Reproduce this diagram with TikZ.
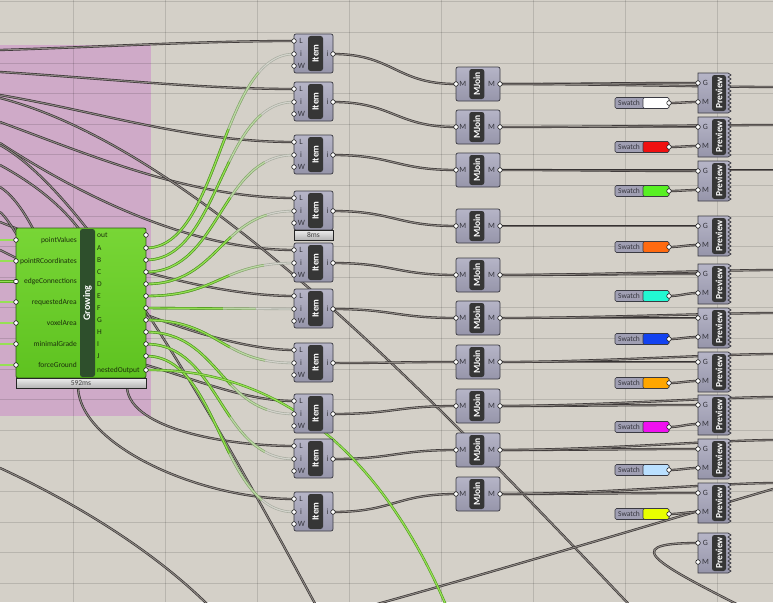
\documentclass[tikz,border=0pt]{standalone}
\usepackage{fontspec}
\setmainfont{Carlito}
\pgfdeclarelayer{back}
\pgfdeclarelayer{wires}
\pgfsetlayers{back,wires,main}
\definecolor{bgc}{HTML}{D4D0C8}
\definecolor{groupc}{HTML}{CFAAC8}
\definecolor{bodytop}{HTML}{B6B5C7}
\definecolor{bodybot}{HTML}{9695AA}
\definecolor{bodyedge}{HTML}{3A3A42}
\definecolor{bardark}{HTML}{363636}
\definecolor{labc}{HTML}{34343C}
\definecolor{wireedge}{HTML}{363232}
\definecolor{wirecore}{HTML}{8E8984}
\definecolor{greenedge}{HTML}{4E9A1C}
\definecolor{greencore}{HTML}{96E055}
\definecolor{midedge}{HTML}{86A86A}
\definecolor{midcore}{HTML}{BCD8A6}
\definecolor{paleedge}{HTML}{A6AA9E}
\definecolor{palecore}{HTML}{D2D3CB}
\definecolor{grtop}{HTML}{78D636}
\definecolor{grbot}{HTML}{5EC220}
\definecolor{gredge}{HTML}{2C5A12}
\definecolor{grbarc}{HTML}{2E4F2C}
\definecolor{grlab}{HTML}{1C300C}
\definecolor{timetop}{HTML}{EEEEEE}
\definecolor{timebot}{HTML}{B4B4B4}
\definecolor{swA}{HTML}{FFFFFF}
\definecolor{swB}{HTML}{F01010}
\definecolor{swC}{HTML}{58F024}
\definecolor{swD}{HTML}{FF6A10}
\definecolor{swE}{HTML}{22F8D2}
\definecolor{swF}{HTML}{1242F0}
\definecolor{swG}{HTML}{FFA600}
\definecolor{swH}{HTML}{F010F0}
\definecolor{swI}{HTML}{BAE0FF}
\definecolor{swJ}{HTML}{E8FF00}
\tikzset{
 ghbody/.style={draw=bodyedge, line width=0.7pt, rounded corners=2pt, top color=bodytop, bottom color=bodybot, inner sep=0pt},
 ghbodyp/.style={draw=bodyedge, line width=0.7pt, top color=bodytop, bottom color=bodybot},
 ghbar/.style={fill=bardark, rounded corners=2.5pt, inner sep=0pt},
 ghname/.style={rotate=90, text=white, font=\bfseries\fontsize{9.5}{9.5}\selectfont, inner sep=0pt},
 ghport/.style={circle, inner sep=0pt, minimum size=4.6pt, fill=white, draw=black, line width=0.5pt},
 plabel/.style={font=\fontsize{8}{8}\selectfont, text=labc, inner sep=0pt},
 ghwire/.style={draw=wireedge, line width=0.65pt, double=wirecore, double distance=1.0pt},
 greenwire/.style={draw=greenedge, line width=0.6pt, double=greencore, double distance=1.2pt},
 midwire/.style={draw=midedge, line width=0.6pt, double=midcore, double distance=1.2pt},
 palewire/.style={draw=paleedge, line width=0.6pt, double=palecore, double distance=1.2pt},
 timer/.style={draw=black!85, line width=0.6pt, top color=timetop, bottom color=timebot, inner sep=0pt, font=\fontsize{7.5}{7.5}\selectfont, text=black!75},
 grbody/.style={draw=gredge, line width=0.8pt, rounded corners=2pt, top color=grtop, bottom color=grbot, inner sep=0pt},
 grlabel/.style={font=\fontsize{7.5}{7.5}\selectfont, text=grlab, inner sep=0pt},
 swbody/.style={draw=bodyedge, line width=0.6pt, rounded corners=1.5pt, fill=bodybot!70!bodytop, inner sep=0pt},
 swlabel/.style={font=\fontsize{7.5}{7.5}\selectfont, text=labc, inner sep=0pt},
 gridline/.style={draw=black, opacity=0.13, line width=0.7pt},
}
\newcommand\GHitem[2]{%
 \node[ghbody, minimum width=39pt, minimum height=39pt] (item#1) at (313.5,#2+19.5) {};
 \node[ghbar, minimum width=15pt, minimum height=35pt] (itembar#1) at (315.5,#2+19.5) {};
 \node[ghname] (itemname#1) at (itembar#1.center) {Item};
 \coordinate (itemL#1) at (294,#2+7);
 \coordinate (itemI#1) at (294,#2+20);
 \coordinate (itemW#1) at (294,#2+32);
 \coordinate (itemO#1) at (333,#2+20);
 \node[ghport] (itemLp#1) at (itemL#1) {};
 \node[ghport] (itemIp#1) at (itemI#1) {};
 \node[ghport] (itemWp#1) at (itemW#1) {};
 \node[ghport] (itemOp#1) at (itemO#1) {};
 \node[plabel] (itemLl#1) at (301,#2+7) {L};
 \node[plabel] (itemIl#1) at (301,#2+20) {i};
 \node[plabel] (itemWl#1) at (301.5,#2+32) {W};
 \node[plabel] (itemOl#1) at (327.5,#2+20) {i};
}
\newcommand\GHmjoin[2]{%
 \node[ghbody, minimum width=44pt, minimum height=34pt] (mj#1) at (478,#2) {};
 \node[ghbar, minimum width=15pt, minimum height=30pt] (mjbar#1) at (476.8,#2) {};
 \node[ghname] (mjname#1) at (mjbar#1.center) {MJoin};
 \coordinate (mjI#1) at (456,#2);
 \coordinate (mjO#1) at (500,#2);
 \node[ghport] (mjIp#1) at (mjI#1) {};
 \node[ghport] (mjOp#1) at (mjO#1) {};
 \node[plabel] (mjIl#1) at (462.8,#2) {M};
 \node[plabel] (mjOl#1) at (491.5,#2) {M};
}
\newcommand\GHpreview[2]{%
 \draw[ghbodyp] (698,#2) -- (728,#2) \foreach \zz in {0,...,9}{ -- (731,#2+4*\zz+2) -- (728,#2+4*\zz+4)} -- (698,#2+40) -- cycle;
 \node[inner sep=0pt, minimum width=30pt, minimum height=40pt] (pv#1) at (713,#2+20) {};
 \node[ghbar, minimum width=14pt, minimum height=36pt] (pvbar#1) at (719,#2+20) {};
 \node[ghname] (pvname#1) at (pvbar#1.center) {Preview};
 \coordinate (pvG#1) at (698,#2+10);
 \coordinate (pvM#1) at (698,#2+29);
 \node[ghport] (pvGp#1) at (pvG#1) {};
 \node[ghport] (pvMp#1) at (pvM#1) {};
 \node[plabel] (pvGl#1) at (705.5,#2+10) {G};
 \node[plabel] (pvMl#1) at (705.5,#2+29) {M};
}
\newcommand\GHswatch[3]{%
 \node[swbody, minimum width=54pt, minimum height=11pt] (sw#1) at (642,#2) {};
 \draw[draw=bodyedge, line width=0.6pt, fill=#3, rounded corners=1.5pt] (643,#2-5.5) rectangle (669,#2+5.5);
 \node[swlabel] (swl#1) at (629,#2) {Swatch};
 \coordinate (swO#1) at (669,#2);
 \node[ghport] (swp#1) at (swO#1) {};
}
\begin{document}
\begin{tikzpicture}[x=1pt,y=-1pt]
\useasboundingbox (0,0) rectangle (773,602);
\begin{pgfonlayer}{back}
 \fill[bgc] (0,0) rectangle (773,602);
 \fill[groupc] (0,45) rectangle (151,416);
 \foreach \gy in {0,...,19} \draw[gridline] (0,1.8+30.6*\gy) -- (773,1.8+30.6*\gy);
 \foreach \gx in {0,...,7} \draw[gridline] (73+92.1*\gx,0) -- (73+92.1*\gx,602);
\end{pgfonlayer}

% ---------- components ----------
\node[grbody, minimum width=130pt, minimum height=150pt] (grow) at (81,303) {};
\node[fill=grbarc, rounded corners=2.5pt, inner sep=0pt, minimum width=15pt, minimum height=148pt] (growbar) at (87.5,303) {};
\node[ghname, font=\bfseries\fontsize{10}{10}\selectfont] (growname) at (growbar.center) {Growing};
\node[timer, minimum width=130pt, minimum height=10pt] (growtime) at (81,383) {592ms};
\foreach \nm/\yy [count=\gi] in {pointValues/240, pointRCoordinates/261, edgeConnections/281.5, requestedArea/302, voxelArea/323, minimalGrade/344, forceGround/365} {
  \coordinate (gin\gi) at (16,\yy);
  \coordinate (ginS\gi) at (-3,\yy);
  \node[ghport] (ginp\gi) at (gin\gi) {};
  \node[grlabel, anchor=east] (ginl\gi) at (77,\yy) {\nm};
}
\foreach \nm/\yy [count=\gi] in {out/235, A/248, B/260, C/272, D/284, E/296, F/308, G/320, H/332, I/344, J/356, nestedOutput/370} {
  \coordinate (gout\gi) at (146,\yy);
  \node[ghport] (goutp\gi) at (gout\gi) {};
  \node[grlabel, anchor=west] (goutl\gi) at (97,\yy) {\nm};
}

\foreach \gi/\tp in {1/34, 2/82, 3/135, 4/191, 5/243, 6/289, 7/343, 8/394, 9/439, 10/492} {\GHitem{\gi}{\tp}}
\node[timer, minimum width=39pt, minimum height=10pt] (item4time) at (313.5,235) {8ms};
\foreach \gi/\my in {1/84, 2/127, 3/170, 4/226, 5/275, 6/318, 7/362, 8/406, 9/450, 10/494} {\GHmjoin{\gi}{\my}}
\foreach \gi/\tp in {1/73, 2/117, 3/161, 4/216, 5/264, 6/308, 7/352, 8/395, 9/439, 10/483, 11/533} {\GHpreview{\gi}{\tp}}
\foreach \gi/\sy/\sc in {1/103/swA, 2/147/swB, 3/191/swC, 4/247/swD, 5/296/swE, 6/339/swF, 7/383/swG, 8/427/swH, 9/470/swI, 10/514/swJ} {\GHswatch{\gi}{\sy}{\sc}}

% ---------- free ends ----------
\coordinate (d1s) at (0,50);   \coordinate (d2s) at (0,72);
\coordinate (d3s) at (0,95);   \coordinate (d4s) at (0,122);
\coordinate (d5s) at (0,143);  \coordinate (d6s) at (0,222);
\coordinate (d7s) at (0,250);  \coordinate (d8s) at (0,212);
\coordinate (d8m) at (100,355);
\coordinate (d9s) at (0,165);  \coordinate (d9m) at (127,388);
\coordinate (d10s) at (0,187); \coordinate (d10m) at (78,388);
\coordinate (xs) at (0,98);    \coordinate (xe) at (640,616);
\coordinate (ys) at (0,145);   \coordinate (ye) at (325,622);
\coordinate (l1s) at (0,468);  \coordinate (l1e) at (215,612);
\coordinate (l2s) at (370,606); \coordinate (l2e) at (790,484);
\coordinate (loops) at (762,617);
\coordinate (gnestT) at (460,640);

\begin{pgfonlayer}{wires}
 % dark wires from the left
 \draw[ghwire] (d1s) .. controls (100,47) and (200,41) .. (itemL1);
 \draw[ghwire] (d2s) .. controls (100,78) and (200,89) .. (itemL2);
 \draw[ghwire] (d3s) .. controls (100,112) and (190,142) .. (itemL3);
 \draw[ghwire] (d4s) .. controls (90,155) and (190,198) .. (itemL4);
 \draw[ghwire] (d5s) .. controls (80,195) and (190,250) .. (itemL5);
 \draw[ghwire] (d6s) .. controls (100,262) and (210,296) .. (itemL6);
 \draw[ghwire] (d7s) .. controls (100,300) and (220,350) .. (itemL7);
 \draw[ghwire] (d8s) .. controls (20,228) and (60,330) .. (d8m) .. controls (160,362) and (230,401) .. (itemL8);
 \draw[ghwire] (d9s) .. controls (110,225) and (118,300) .. (d9m) .. controls (131,430) and (230,446) .. (itemL9);
 \draw[ghwire] (d10s) .. controls (40,212) and (75,330) .. (d10m) .. controls (81,446) and (200,499) .. (itemL10);
 \draw[ghwire] (xs) .. controls (200,150) and (440,406) .. (xe);
 \draw[ghwire] (ys) .. controls (100,200) and (245,475) .. (ye);
 \draw[ghwire] (l1s) .. controls (80,505) and (160,555) .. (l1e);
 \draw[ghwire] (l2s) .. controls (500,570) and (650,525) .. (l2e);
 % item -> mjoin
 \foreach \gi in {1,...,10} \draw[ghwire] (itemO\gi) .. controls +(60,0) and +(-60,0) .. (mjI\gi);
 % mjoin -> preview
 \foreach \gi in {1,...,10} \draw[ghwire] (mjO\gi) .. controls +(80,0) and +(-80,0) .. (pvG\gi);
 % mjoin -> further right
 \foreach \gi/\ry in {1/87, 2/125, 3/170, 5/270, 6/313, 7/354, 8/397, 9/440, 10/483} {
   \coordinate (offR\gi) at (776,\ry);
   \draw[ghwire] (mjO\gi) .. controls +(100,0) and +(-60,0) .. (offR\gi);
 }
 % swatch -> preview
 \foreach \gi in {1,...,10} \draw[ghwire] (swO\gi) .. controls +(12,0) and +(-12,0) .. (pvM\gi);
 % loop into last preview
 \draw[ghwire] (pvG11) .. controls (612,543) and (662,566) .. (loops);
 % green wires into Growing
 \foreach \gi in {1,...,7} \draw[greenwire] (ginS\gi) -- (gin\gi);
 % green wires from Growing to items
 \foreach \gi/\len in {1/293, 2/261, 3/227, 4/193, 5/166, 6/148, 7/172, 8/200, 9/225, 10/260} {
   \pgfmathtruncatemacro\gs{\gi+1}
   \pgfmathsetmacro\lm{0.74*\len}
   \pgfmathsetmacro\lg{0.52*\len}
   \draw[palewire] (gout\gs) .. controls +(74,0) and +(-74,0) .. (itemI\gi);
   \draw[midwire, dash pattern=on \lm pt off 3000pt] (gout\gs) .. controls +(74,0) and +(-74,0) .. (itemI\gi);
   \draw[greenwire, dash pattern=on \lg pt off 3000pt] (gout\gs) .. controls +(74,0) and +(-74,0) .. (itemI\gi);
 }
 \draw[greenwire] (gout12) .. controls (300,368) and (400,480) .. (gnestT);
\end{pgfonlayer}
\end{tikzpicture}
\end{document}
